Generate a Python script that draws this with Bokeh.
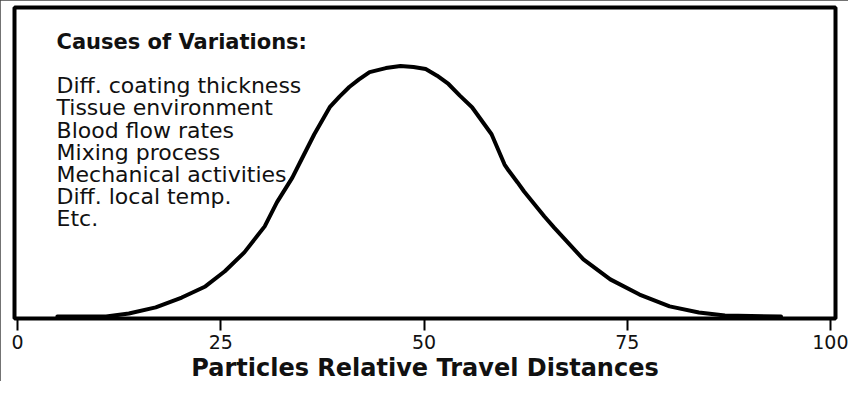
from bokeh.plotting import figure
from bokeh.models import FixedTicker, Range1d, ColumnDataSource, Title
from bokeh.core.properties import value
from bokeh.embed import file_html
from bokeh.resources import INLINE

# Distribution curve (relative frequency, peak = 100)
distance = [4.9, 10.9, 13.7, 17.0, 20.2, 23.1, 25.5, 27.9, 30.4, 31.9, 33.8, 34.8,
            36.5, 38.4, 39.6, 40.8, 42.0, 43.3, 45.3, 47.1, 48.7, 50.2, 51.6, 53.0,
            54.4, 55.9, 58.3, 59.9, 60.4, 61.5, 62.3, 64.8, 66.0, 69.6, 72.9, 76.5,
            80.2, 83.8, 87.0, 93.9]
frequency = [0.8, 0.8, 2.0, 4.4, 8.3, 12.7, 18.7, 26.2, 36.5, 46.0, 55.8, 62.2,
             73.0, 83.7, 87.9, 91.7, 94.7, 97.6, 99.2, 100.0, 99.6, 98.8, 96.2, 92.9,
             88.3, 83.7, 73.0, 61.0, 58.6, 53.9, 50.3, 40.4, 36.0, 23.4, 15.5, 9.5,
             4.8, 2.4, 1.2, 0.8]

x_ticks = [0, 25, 50, 75, 100]
x_title = "Particles Relative Travel Distances"
heading = "Causes of Variations:"
causes = ["Diff. coating thickness", "Tissue environment", "Blood flow rates",
          "Mixing process", "Mechanical activities", "Diff. local temp.", "Etc."]

p = figure(width=848, height=381, output_backend="svg", toolbar_location=None,
           x_range=Range1d(-0.37, 100.6), y_range=Range1d(0, 123.2),
           min_border_left=14, min_border_right=13, min_border_top=7, min_border_bottom=0,
           styles={"outline": "1px solid #444444", "outline-offset": "-1px"})

p.outline_line_color = "black"
p.outline_line_width = 4
p.grid.visible = False
p.yaxis.visible = False

ax = p.xaxis[0]
ax.ticker = FixedTicker(ticks=x_ticks)
ax.axis_line_width = 3
ax.axis_line_color = "black"
ax.major_tick_line_width = 2
ax.major_tick_line_color = "black"
ax.major_tick_out = 12
ax.major_tick_in = 0
ax.minor_tick_line_color = None
ax.major_label_text_font = "DejaVu Sans"
ax.major_label_text_font_size = "19px"
ax.major_label_text_color = "#111111"
ax.major_label_standoff = 4

# axis title as a title panel under the axis
p.add_layout(Title(text=x_title, align="center", text_font="DejaVu Sans",
                   text_font_style="bold", text_font_size="24px", text_color="#111111",
                   standoff=0, offset=0), "below")

p.line(distance, frequency, line_width=4, line_color="black", line_join="round", line_cap="round")

# heading and list of causes
p.text(x=[4.8], y=[109.4], text=[heading], text_font=value("DejaVu Sans"),
       text_font_style="bold", text_font_size="21px", text_baseline="middle", text_color="#111111")
step = 8.78
src = ColumnDataSource(dict(x=[4.8] * len(causes),
                            y=[92.2 - i * step for i in range(len(causes))],
                            t=causes))
p.text(x="x", y="y", text="t", source=src, text_font=value("DejaVu Sans"),
       text_font_size="22px", text_baseline="middle", text_color="#111111")

open("out.html", "w").write(file_html(p, INLINE))
